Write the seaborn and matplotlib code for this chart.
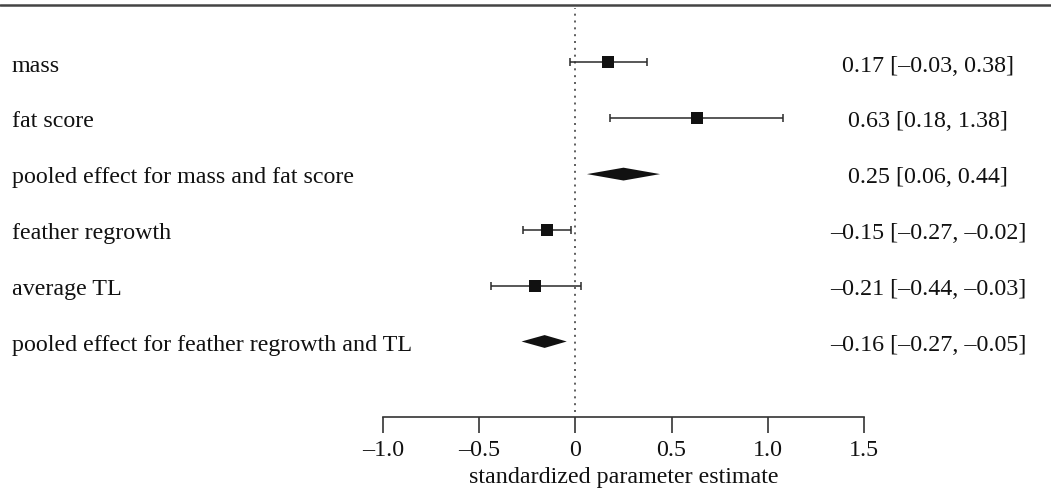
import numpy as np
import matplotlib
matplotlib.use('Agg')
import matplotlib.pyplot as plt
import matplotlib.transforms as mtransforms
from matplotlib.lines import Line2D
import seaborn as sns

# data
labels = ['mass', 'fat score', 'pooled effect for mass and fat score',
          'feather regrowth', 'average TL',
          'pooled effect for feather regrowth and TL']
est = np.array([0.17, 0.63, 0.25, -0.15, -0.21, -0.16])
lo = np.array([-0.03, 0.18, 0.06, -0.27, -0.44, -0.28])
hi = np.array([0.37, 1.08, 0.44, -0.025, 0.03, -0.045])
pooled = np.array([False, False, True, False, False, True])
ci_text = ['0.17 [\u20130.03, 0.38]', '0.63 [0.18, 1.38]', '0.25 [0.06, 0.44]',
           '\u20130.15 [\u20130.27, \u20130.02]', '\u20130.21 [\u20130.44, \u20130.03]',
           '\u20130.16 [\u20130.27, \u20130.05]']
ticks = [-1.0, -0.5, 0, 0.5, 1.0, 1.5]
tick_labels = ['\u20131.0', '\u20130.5', '0', '0.5', '1.0', '1.5']

sns.set_style('white')
plt.rcParams['font.family'] = ['Liberation Serif', 'DejaVu Serif']
fs = 17.3
ink = '#111111'

fig = plt.figure(figsize=(10.51, 4.9), dpi=100)
W, H = 1051, 490
ax = fig.add_axes([383 / W, (H - 417) / H, (864 - 383) / W, (417 - 6) / H])
rows = np.arange(len(labels))
ax.set_xlim(-1, 1.5)
ax.set_ylim(6.353, -1.0125)

# dotted reference line at zero
ax.axvline(0, ymin=0.012, ymax=0.995, color='#444444', lw=1.2,
           linestyle=(0, (1.2, 2.9)), zorder=1)

# individual estimates
pt = ~pooled
ax.errorbar(est[pt], rows[pt], xerr=[est[pt] - lo[pt], hi[pt] - est[pt]],
            fmt='none', ecolor='#2a2a2a', elinewidth=1.1, capsize=3.0,
            capthick=1.1, zorder=2)
sns.scatterplot(x=est[pt], y=rows[pt], marker='s', s=64, color=ink,
                edgecolor=ink, linewidth=0, ax=ax, zorder=3)

# pooled diamonds
h = 0.115
for r in rows[pooled]:
    ax.fill([lo[r], est[r], hi[r], est[r]], [r, r - h, r, r + h],
            color=ink, lw=0, zorder=3)

# left labels and right CI text
row_tr = mtransforms.blended_transform_factory(fig.transFigure, ax.transData)
row_tr = mtransforms.offset_copy(row_tr, fig=fig, y=-6.5, units='points')
for r, lab in enumerate(labels):
    ax.text(12 / W, r, lab, transform=row_tr, fontsize=fs, color=ink,
            ha='left', va='baseline', clip_on=False)
    ax.text(928 / W, r, ci_text[r], transform=row_tr, fontsize=fs,
            color=ink, ha='center', va='baseline', clip_on=False)

# axis styling
for s in ['top', 'left', 'right']:
    ax.spines[s].set_visible(False)
ax.spines['bottom'].set_bounds(-1, 1.5)
ax.spines['bottom'].set_color('#333333')
ax.spines['bottom'].set_linewidth(1.2)
ax.set_yticks([])
ax.set_xticks(ticks)
ax.set_xticklabels(tick_labels, fontsize=fs, color=ink)
ax.tick_params(axis='x', direction='out', length=11.5, width=1.2,
               color='#333333', pad=5, bottom=True)
ax.patch.set_alpha(0)

ax.text(0.25, 1 - 483 / H, 'standardized parameter estimate',
        transform=mtransforms.blended_transform_factory(ax.transData, fig.transFigure),
        fontsize=fs, color=ink, ha='center', va='baseline', clip_on=False)

# rule across the top
fig.add_artist(Line2D([0, 1], [1 - 5 / H, 1 - 5 / H], transform=fig.transFigure,
                      color='#444444', lw=1.8))

fig.savefig('out.png', dpi=100)
